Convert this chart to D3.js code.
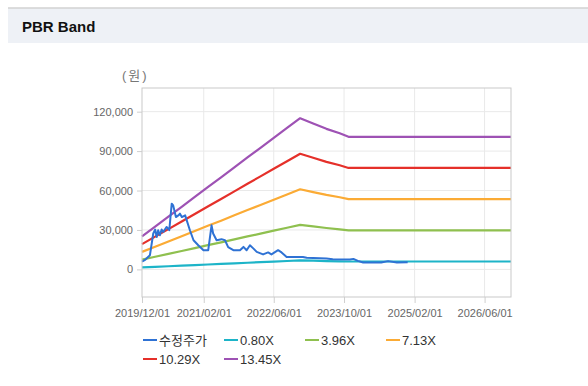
<!DOCTYPE html>
<html>
<head>
<meta charset="utf-8">
<script src="https://cdn.jsdelivr.net/npm/d3@7"></script>
<style>
  body { margin: 0; background: #fff; }
  svg { display: block; font-family: "Liberation Sans", Arial, "Noto Sans CJK KR", sans-serif; }
</style>
</head>
<body>
<div id="chart"></div>
<script>
// series names + colours (legend order)
var seriesNames = ["수정주가", "0.80X", "3.96X", "7.13X", "10.29X", "13.45X"];
var seriesColors = ["#2f72d4", "#1db4c8", "#8fc04f", "#fbab35", "#e5302a", "#9e52b4"];
var bandMultiples = [0.80, 3.96, 7.13, 10.29, 13.45];

// adjusted price (수정주가)
var priceDates = ["2019-12-01", "2019-12-25", "2020-01-25", "2020-02-17", "2020-03-01", "2020-03-12",
  "2020-03-22", "2020-04-03", "2020-04-15", "2020-04-26", "2020-05-19", "2020-06-07", "2020-06-24",
  "2020-07-04", "2020-07-23", "2020-08-09", "2020-08-20", "2020-09-02", "2020-09-25", "2020-10-28",
  "2020-11-22", "2020-12-25", "2021-01-30", "2021-03-04", "2021-03-27", "2021-04-07", "2021-05-01",
  "2021-06-04", "2021-06-28", "2021-07-20", "2021-08-25", "2021-10-10", "2021-11-03", "2021-11-25",
  "2021-12-18", "2022-01-10", "2022-02-03", "2022-03-19", "2022-04-23", "2022-05-16", "2022-07-01",
  "2022-07-25", "2022-08-29", "2022-12-20", "2023-01-15", "2023-06-01", "2023-07-15", "2023-11-10",
  "2023-12-05", "2024-01-05", "2024-02-10", "2024-06-15", "2024-08-01", "2024-10-01", "2024-12-15"];
var priceValues = [6000, 7500, 10800, 27300, 30300, 24700,
  29800, 26000, 30300, 28500, 32300, 29800, 50000,
  48700, 39800, 41100, 42400, 39800, 41100, 29800,
  22200, 18400, 14600, 14600, 33500, 27300, 22200,
  23000, 22200, 17000, 14600, 14600, 17100, 14600,
  18400, 16000, 13300, 11400, 12900, 11400, 14600,
  12900, 9500, 9500, 8800, 8300, 7800, 7600,
  8000, 6500, 5300, 5300, 6300, 5300, 5500];

// BPS used for the bands
var bpsDates = ["2019-12-01", "2020-03-01", "2020-06-01", "2020-09-01", "2020-12-01", "2021-03-01",
  "2021-06-01", "2021-09-01", "2021-12-01", "2022-03-01", "2022-06-01", "2022-09-01", "2022-12-01",
  "2023-03-01", "2023-06-01", "2023-09-01", "2023-11-01", "2026-12-01"];
var bpsValues = [1870, 2420, 2980, 3540, 4100, 4650,
  5200, 5770, 6330, 6880, 7440, 8000, 8550,
  8250, 7950, 7700, 7500, 7500];

var xTickDates = ["2019-12-01", "2021-02-01", "2022-06-01", "2023-10-01", "2025-02-01", "2026-06-01"];
var yTicks = [0, 30000, 60000, 90000, 120000];

var parse = d3.timeParse("%Y-%m-%d");

var margin = { top: 88, left: 142 };
var width = 369, height = 209;

var svg = d3.select("#chart").append("svg")
  .attr("width", 588)
  .attr("height", 386);

// title bar
svg.append("rect").attr("x", 8).attr("y", 8).attr("width", 580).attr("height", 35).attr("fill", "#eef1f6");
svg.append("line").attr("x1", 8).attr("x2", 588).attr("y1", 8).attr("y2", 8)
  .attr("stroke", "#d2d2d2").attr("stroke-width", 1.5);
svg.append("text").attr("x", 22).attr("y", 32)
  .attr("font-size", 15).attr("font-weight", "bold").attr("fill", "#111")
  .text("PBR Band");

// unit label
svg.append("text").attr("x", 122).attr("y", 80)
  .attr("font-size", 13).attr("fill", "#777").attr("letter-spacing", 2)
  .text("(원)");

var x = d3.scaleTime()
  .domain([parse("2019-12-01"), parse("2026-12-01")])
  .range([0, width]);

var y = d3.scaleLinear()
  .domain([-21000, 138000])
  .range([height, 0]);

var g = svg.append("g")
  .attr("transform", "translate(" + margin.left + "," + margin.top + ")");

// grid
g.selectAll(".hgrid").data(yTicks).enter().append("line")
  .attr("x1", 0).attr("x2", width)
  .attr("y1", d => y(d)).attr("y2", d => y(d))
  .attr("stroke", "#e9e9e9");
g.selectAll(".vgrid").data(xTickDates.slice(1)).enter().append("line")
  .attr("y1", 0).attr("y2", height)
  .attr("x1", d => x(parse(d))).attr("x2", d => x(parse(d)))
  .attr("stroke", "#e9e9e9");

// axes
var xAxis = g.append("g")
  .attr("transform", "translate(0," + height + ")")
  .call(d3.axisBottom(x)
    .tickValues(xTickDates.map(parse))
    .tickFormat(d3.timeFormat("%Y/%m/%d"))
    .tickSize(6).tickPadding(6));
xAxis.select(".domain").remove();
xAxis.selectAll("line").attr("stroke", "#cfcfcf");
xAxis.selectAll("text").attr("fill", "#666").attr("font-size", 11).attr("font-family", null);

var yAxis = g.append("g")
  .call(d3.axisLeft(y).tickValues(yTicks).tickFormat(d3.format(",")).tickSize(5).tickPadding(4));
yAxis.select(".domain").remove();
yAxis.selectAll("line").attr("stroke", "#cfcfcf");
yAxis.selectAll("text").attr("fill", "#666").attr("font-size", 11).attr("font-family", null);

// lines
var line = d3.line()
  .x(d => x(d.date))
  .y(d => y(d.value));

bandMultiples.forEach(function (m, k) {
  var band = bpsDates.map((d, i) => ({ date: parse(d), value: bpsValues[i] * m }));
  g.append("path")
    .datum(band)
    .attr("fill", "none")
    .attr("stroke", seriesColors[k + 1])
    .attr("stroke-width", 2.2)
    .attr("stroke-linejoin", "round")
    .attr("d", line);
});

// price on top of the bands
var price = priceDates.map((d, i) => ({ date: parse(d), value: priceValues[i] }));
g.append("path")
  .datum(price)
  .attr("fill", "none")
  .attr("stroke", seriesColors[0])
  .attr("stroke-width", 2)
  .attr("stroke-linejoin", "round")
  .attr("d", line);

// plot frame
g.append("rect")
  .attr("x", 0).attr("y", 0).attr("width", width).attr("height", height)
  .attr("fill", "none").attr("stroke", "#c9c9c9");

// legend
var legend = svg.append("g").attr("transform", "translate(143,340)");
var item = legend.selectAll(".item").data(seriesNames).enter().append("g")
  .attr("transform", (d, i) => "translate(" + ((i % 4) * 81) + "," + (Math.floor(i / 4) * 19) + ")");
item.append("line")
  .attr("x1", 0).attr("x2", 14).attr("y1", 0).attr("y2", 0)
  .attr("stroke", (d, i) => seriesColors[i]).attr("stroke-width", 2);
item.append("text")
  .attr("x", 16).attr("y", 5)
  .attr("font-size", 13).attr("fill", "#333")
  .text(d => d);
</script>
</body>
</html>
